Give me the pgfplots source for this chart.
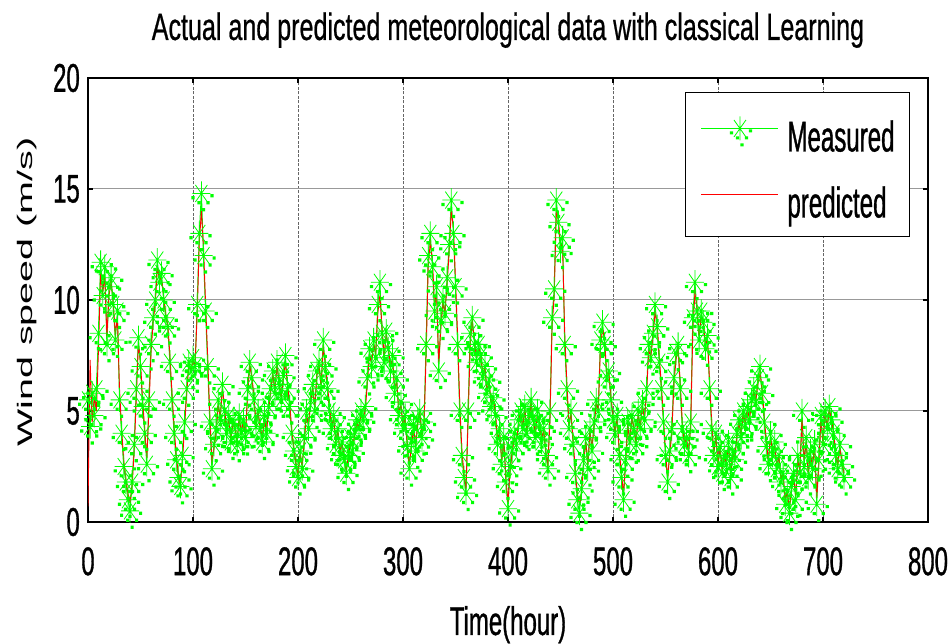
\documentclass[border=0pt]{standalone}
\usepackage{pgfplots}
\pgfplotsset{compat=1.18}
\usepackage{pgfplotstable}
\usepackage{fontspec}
\setmainfont{Liberation Sans}
\newfontfamily\nfont{Liberation Sans}[FakeStretch=0.6, FakeBold=0.8]
\newfontfamily\lfont{Liberation Sans}[FakeStretch=0.56, FakeBold=0.8]
\newfontfamily\tfont{Liberation Sans}[FakeStretch=0.66, FakeBold=0.6]
\newfontfamily\yfont{Liberation Sans}[FakeStretch=1.88]
\definecolor{mgreen}{RGB}{0,255,0}
\pgfdeclareplotmark{mstar}{%
  \pgfsetlinewidth{0.8pt}%
  \pgfpathmoveto{\pgfqpoint{-9pt}{0pt}}\pgfpathlineto{\pgfqpoint{9pt}{0pt}}%
  \pgfpathmoveto{\pgfqpoint{0pt}{-12pt}}\pgfpathlineto{\pgfqpoint{0pt}{12pt}}%
  \pgfpathmoveto{\pgfqpoint{-6pt}{-8.5pt}}\pgfpathlineto{\pgfqpoint{6pt}{8.5pt}}%
  \pgfpathmoveto{\pgfqpoint{-6pt}{8.5pt}}\pgfpathlineto{\pgfqpoint{6pt}{-8.5pt}}%
  \pgfusepathqstroke
  \pgfpathrectangle{\pgfqpoint{9pt}{-4pt}}{\pgfqpoint{3.2pt}{3.2pt}}%
  \pgfpathrectangle{\pgfqpoint{-4pt}{-11pt}}{\pgfqpoint{3.2pt}{3.2pt}}%
  \pgfpathrectangle{\pgfqpoint{5pt}{-11pt}}{\pgfqpoint{3.2pt}{3.2pt}}%
  \pgfpathrectangle{\pgfqpoint{0.5pt}{-18pt}}{\pgfqpoint{3.2pt}{3.2pt}}%
  \pgfpathrectangle{\pgfqpoint{-10pt}{-6pt}}{\pgfqpoint{3.2pt}{3.2pt}}%
  \pgfusepathqfill
}
\pgfplotstableread{
h m p
0 5.5 0.7
2 4.3 7.3
4 5.8 4.5
6 4.8 5.6
8 6.0 5.0
10 8.5 7.8
12 11.7 11.2
14 10.2 10.4
16 11.5 11.0
18 8.0 8.4
20 10.6 10.2
22 11.0 10.8
24 9.8 9.9
26 8.2 8.5
28 9.5 9.2
30 5.5 6.0
32 4.0 4.2
34 2.5 2.8
36 1.8 2.0
38 1.0 1.3
40 0.5 0.9
42 1.8 1.6
44 3.5 3.2
46 6.0 5.6
48 8.3 8.0
50 7.0 7.2
52 5.2 5.5
54 4.0 4.2
56 2.6 2.9
58 5.5 5.0
60 8.0 7.6
62 9.2 9.0
64 10.0 9.8
66 11.8 11.4
68 10.8 11.0
70 11.2 10.9
72 10.0 10.2
74 9.2 9.4
76 8.8 8.9
78 7.2 7.5
80 5.5 5.8
82 4.0 4.3
84 2.8 3.0
86 2.0 2.2
88 1.6 1.7
90 3.0 2.8
92 4.5 4.3
94 6.0 5.8
96 7.2 7.0
98 6.8 6.9
100 7.4 7.2
102 7.0 7.1
104 9.8 9.4
106 13.0 12.6
108 14.8 14.0
110 12.0 12.4
112 9.5 9.8
114 7.0 7.4
116 4.5 4.8
118 2.4 2.8
120 3.5 3.3
122 4.2 4.0
124 5.5 5.2
126 4.6 4.8
128 6.2 6.0
130 5.0 5.2
132 4.0 4.2
134 4.8 4.6
136 3.6 3.8
138 4.6 4.4
140 4.2 4.3
142 3.5 3.7
144 4.8 4.6
146 4.0 4.1
148 4.6 4.5
150 3.8 3.9
152 6.0 5.7
154 7.2 7.0
156 6.5 6.6
158 5.5 5.7
160 4.3 4.5
162 5.0 4.9
164 4.2 4.3
166 3.6 3.8
168 4.8 4.6
170 4.0 4.1
172 5.2 5.0
174 6.0 5.9
176 6.8 6.6
178 5.8 6.0
180 7.2 7.0
182 6.2 6.3
184 5.5 5.7
186 6.6 6.4
188 7.5 7.2
190 6.0 6.2
192 5.2 5.4
194 4.0 4.2
196 3.2 3.4
198 2.5 2.7
200 2.0 2.2
202 3.2 3.0
204 2.4 2.6
206 3.8 3.6
208 5.0 4.8
210 4.2 4.4
212 5.5 5.3
214 6.2 6.0
216 5.0 5.2
218 6.8 6.6
220 7.2 7.0
222 6.0 6.2
224 8.2 7.8
226 7.0 7.2
228 6.0 6.2
230 5.0 5.2
232 4.2 4.4
234 4.8 4.6
236 3.5 3.7
238 4.2 4.0
240 3.0 3.2
242 3.6 3.5
244 2.8 3.0
246 2.2 2.4
248 3.0 2.9
250 3.8 3.6
252 3.2 3.4
254 4.0 3.9
256 4.6 4.4
258 4.2 4.3
260 5.0 4.8
262 4.6 4.7
264 5.2 5.0
266 6.5 6.2
268 7.8 7.5
270 7.0 7.2
272 8.2 8.0
274 7.4 7.6
276 9.8 9.4
278 10.8 10.2
280 8.5 8.8
282 7.2 7.5
284 8.6 8.4
286 7.8 7.9
288 6.8 7.0
290 7.5 7.3
292 5.8 6.0
294 6.5 6.3
296 4.8 5.0
298 5.4 5.2
300 4.2 4.4
302 4.8 4.6
304 3.4 3.6
306 2.4 2.6
308 3.6 3.4
310 4.4 4.2
312 3.2 3.4
314 4.6 4.4
316 5.0 4.9
318 3.8 4.0
320 4.5 4.3
322 8.0 7.5
324 12.0 11.5
326 13.0 12.6
328 11.5 11.8
330 9.5 9.8
332 10.6 10.3
334 6.8 7.2
336 9.0 8.7
338 10.0 9.8
340 9.4 9.5
342 11.0 10.7
344 12.5 12.2
346 14.5 14.0
348 13.0 13.3
350 10.6 10.9
352 8.0 8.4
354 5.0 5.4
356 3.0 3.3
358 2.0 2.2
360 1.3 1.5
362 5.0 4.6
364 8.5 8.0
366 9.2 9.0
368 8.0 8.2
370 7.2 7.4
372 8.0 7.8
374 7.5 7.6
376 6.5 6.7
378 7.0 6.9
380 5.8 6.0
382 6.4 6.2
384 5.2 5.4
386 5.6 5.5
388 4.8 5.0
390 3.5 3.7
392 4.2 4.0
394 2.6 2.8
396 3.8 3.6
398 1.8 2.0
400 0.6 0.9
402 2.5 2.3
404 3.2 3.1
406 4.0 3.8
408 3.5 3.6
410 4.6 4.4
412 5.0 4.9
414 4.2 4.3
416 5.2 5.0
418 4.0 4.2
420 4.8 4.6
422 5.5 5.3
424 4.6 4.7
426 3.8 4.0
428 5.0 4.8
430 4.4 4.5
432 3.6 3.8
434 4.2 4.1
436 3.0 3.2
438 2.4 2.6
440 5.0 4.6
442 9.2 8.8
444 10.5 10.2
446 14.5 13.9
448 13.5 13.6
450 12.2 12.5
452 12.8 12.4
454 8.0 8.5
456 6.0 6.3
458 4.2 4.5
460 5.0 4.8
462 3.5 3.7
464 2.2 2.4
466 1.0 1.3
468 0.4 0.8
470 1.5 1.3
472 2.8 2.6
474 3.8 3.6
476 2.4 2.6
478 4.2 4.0
480 3.2 3.4
482 4.5 4.3
484 5.5 5.3
486 5.0 5.1
488 8.2 7.8
490 9.0 8.7
492 8.0 8.2
494 6.5 6.7
496 6.8 6.7
498 5.5 5.7
500 4.6 4.8
502 4.0 4.1
504 4.8 4.6
506 3.0 3.2
508 2.0 2.2
510 1.0 1.3
512 2.8 2.6
514 4.5 4.3
516 3.6 3.7
518 4.8 4.6
520 4.2 4.3
522 3.5 3.6
524 5.0 4.8
526 4.2 4.3
528 5.4 5.2
530 4.6 4.7
532 6.0 5.8
534 8.0 7.7
536 7.4 7.5
538 8.5 8.3
540 9.8 9.4
542 8.8 9.0
544 7.2 7.5
546 6.0 6.2
548 4.5 4.7
550 3.0 3.2
552 1.8 2.0
554 3.2 3.0
556 4.2 4.0
558 6.5 6.2
560 7.6 7.3
562 8.0 7.8
564 6.0 6.3
566 4.2 4.5
568 3.5 3.6
570 3.8 3.7
572 3.0 3.2
574 4.5 4.3
576 9.2 8.6
578 10.8 10.3
580 9.5 9.7
582 8.2 8.4
584 9.5 9.2
586 9.0 9.1
588 7.8 8.0
590 8.4 8.2
592 6.0 6.3
594 4.2 4.5
596 3.0 3.2
598 4.0 3.8
600 2.5 2.7
602 3.4 3.3
604 2.2 2.4
606 3.0 2.9
608 2.6 2.7
610 3.6 3.4
612 2.0 2.2
614 3.2 3.0
616 2.8 2.9
618 4.0 3.8
620 4.6 4.4
622 3.8 4.0
624 5.0 4.8
626 4.4 4.5
628 5.2 5.0
630 4.6 4.7
632 5.5 5.3
634 6.0 5.8
636 5.4 5.5
638 6.5 6.2
640 7.0 6.7
642 5.8 6.0
644 4.5 4.8
646 3.4 3.6
648 2.6 2.8
650 4.0 3.8
652 3.0 3.2
654 3.6 3.4
656 2.4 2.6
658 3.0 2.9
660 1.8 2.0
662 2.2 2.1
664 0.8 1.1
666 1.4 1.3
668 0.4 0.7
670 1.6 1.4
672 2.2 2.0
674 1.0 1.2
676 3.0 2.7
678 2.2 2.4
680 5.0 4.6
682 2.5 2.8
684 3.8 3.6
686 2.0 2.2
688 3.2 3.0
690 2.4 2.6
692 3.6 3.4
694 0.8 1.1
696 2.8 2.6
698 4.8 4.5
700 3.5 3.7
702 5.0 4.8
704 4.2 4.3
706 5.2 5.0
708 4.6 4.7
710 4.0 4.1
712 3.0 3.2
714 2.4 2.6
716 3.5 3.3
718 2.6 2.8
720 2.0 2.2
}\data
\begin{document}
\begin{tikzpicture}
\useasboundingbox (0,0) rectangle (952pt,644pt);
\begin{axis}[
  at={(88pt,122pt)}, anchor=south west,
  width=840pt, height=444pt, scale only axis,
  xmin=0, xmax=800, ymin=0, ymax=20,
  xtick={0,100,...,800}, ytick={0,5,...,20},
  /pgf/number format/assume math mode=true,
  tick label style={font=\fontsize{40}{41}\nfont},
  xticklabel style={inner sep=0pt, anchor=north, yshift=-25pt},
  yticklabel style={inner sep=0pt, anchor=east, xshift=-8pt},
  tick align=inside, major tick length=5pt,
  tick style={black, line width=1.5pt},
  axis line style={black, line width=1.5pt},
  xmajorgrids, ymajorgrids,
  x grid style={black!60, line width=0.7pt, dash pattern=on 3pt off 1.5pt},
  y grid style={gray!80, line width=1pt},
  title={Actual and predicted meteorological data with classical Learning},
  title style={font=\fontsize{38}{40}\tfont, anchor=base, at={(axis description cs:0.5,1)}, yshift=32pt},
  xlabel={Time(hour)},
  xlabel style={font=\fontsize{40}{41}\nfont, anchor=base, at={(axis description cs:0.5,0)}, yshift=-113pt},
  ylabel={Wind speed (m/s)},
  ylabel style={font=\fontsize{21}{22}\yfont, anchor=center, at={(axis description cs:-0.0726,0.518)}},
  legend style={at={(axis description cs:0.9786,0.9685)}, anchor=north east, draw=black, line width=1pt,
    font=\fontsize{43}{44}\lfont, inner xsep=15pt, inner ysep=10pt, row sep=8pt,
    column sep=0pt, nodes={inner sep=0pt, text height=49pt, text depth=9pt}},
  legend cell align=left,
]
\addplot[color=mgreen, draw=mgreen, line width=1pt, mark=mstar,
  legend image code/.code={%
    \draw[draw=mgreen, line width=1.2pt] (0pt,3pt) -- (77pt,3pt);
    \draw[draw=mgreen, fill=mgreen] plot[mark=mstar, only marks] coordinates {(38.5pt,3pt)};
    \draw[draw=none] (86pt,3pt) -- (86pt,3.1pt);}]
  table[x=h,y=m] {\data};
\addlegendentry{Measured}
\addplot[color=red, draw=red, line width=0.9pt, no markers,
  legend image code/.code={%
    \draw[draw=red, line width=1.2pt] (0pt,3pt) -- (77pt,3pt);
    \draw[draw=none] (86pt,3pt) -- (86pt,3.1pt);}]
  table[x=h,y=p] {\data};
\addlegendentry{predicted}
\end{axis}
\end{tikzpicture}
\end{document}
